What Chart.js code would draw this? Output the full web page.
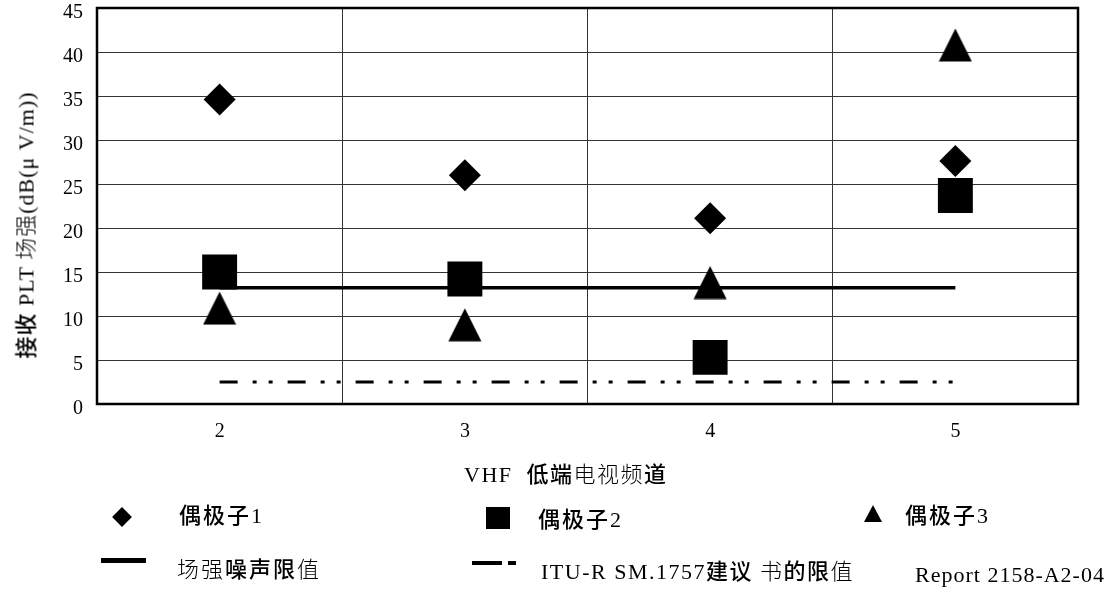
<!DOCTYPE html>
<html><head><meta charset="utf-8">
<script src="https://cdn.jsdelivr.net/npm/chart.js@4.4.1/dist/chart.umd.min.js"></script>
<style>
body{margin:0;background:#fff;}
#wrap{position:relative;width:1112px;height:591px;overflow:hidden;background:#fff;}
canvas{position:absolute;left:0;top:0;}
.t{position:absolute;font-family:'Liberation Serif','Times New Roman',serif;font-size:22px;color:#000;white-space:nowrap;line-height:1;transform:translateY(-50%);}
.b{font-family:'Noto Sans CJK SC',sans-serif;font-weight:500;}
.l{font-family:'Noto Sans CJK SC',sans-serif;font-weight:300;}
.m{position:absolute;background:#000;}
</style></head><body>
<div id="wrap">
<canvas id="c" width="1112" height="591"></canvas>
<div class="t" id="ytitle" style="left:25px;top:225px;font-size:22px;letter-spacing:1px;transform:translate(-50%,-50%) rotate(-90deg);"><span class="b">接收</span> PLT <span class="l">场强</span>(dB(μ V/m))</div>
<div class="t" id="xtitle" style="left:464px;top:473px;font-size:22px;letter-spacing:1.5px;">VHF&nbsp; <span class="b">低端</span><span class="l">电视频</span><span class="b">道</span></div>
<div id="legend"></div>
<div class="t" style="left:915px;top:575px;font-size:22px;letter-spacing:1px;">Report 2158-A2-04</div>
</div>
<script>
// ---- data ----
const categories = ['2', '3', '4', '5'];
const dipole1 = [34.6, 26.0, 21.1, 27.6];
const dipole2 = [15.0, 14.2, 5.3, 23.7];
const dipole3 = [10.9, 9.0, 13.8, 40.8];
const noiseLimit = [13.2, 13.2, 13.2, 13.2];
const ituLimit = [2.5, 2.5, 2.5, 2.5];
const yTickValues = [0, 5, 10, 15, 20, 25, 30, 35, 40, 45];
const seriesNames = ['偶极子1', '偶极子2', '偶极子3', '场强噪声限值', 'ITU-R SM.1757建议书的限值'];

// triangle marker centred on its bounding box
const tri = document.createElement('canvas');
tri.width = 34; tri.height = 34;
(function(){const g = tri.getContext('2d'); g.fillStyle = '#000'; g.beginPath(); g.moveTo(17, 0.5); g.lineTo(33.5, 33.5); g.lineTo(0.5, 33.5); g.closePath(); g.fill();})();

const frame = {
  id: 'frame',
  beforeDatasetsDraw(chart) {
    const {ctx, chartArea: a} = chart;
    ctx.save();
    ctx.strokeStyle = '#000';
    ctx.lineWidth = 2.5;
    ctx.strokeRect(a.left, a.top, a.right - a.left, a.bottom - a.top);
    ctx.restore();
  }
};

const serif = "'Liberation Serif', 'Times New Roman', serif";

new Chart(document.getElementById('c'), {
  type: 'line',
  data: {
    labels: categories,
    datasets: [
      {label: seriesNames[0], data: dipole1, showLine: false, pointStyle: 'rectRot', pointRadius: 16, pointHoverRadius: 16, backgroundColor: '#000', borderColor: '#000', pointBorderWidth: 0},
      {label: seriesNames[1], data: dipole2, showLine: false, pointStyle: 'rect', pointRadius: 24.7, pointHoverRadius: 24.7, backgroundColor: '#000', borderColor: '#000', pointBorderWidth: 0},
      {label: seriesNames[2], data: dipole3, showLine: false, pointStyle: tri, pointRadius: 17, backgroundColor: '#000', borderColor: '#000', pointBorderWidth: 0},
      {label: seriesNames[3], data: noiseLimit, showLine: true, pointRadius: 0, borderColor: '#000', borderWidth: 3.5, fill: false},
      {label: seriesNames[4], data: ituLimit, showLine: true, pointRadius: 0, borderColor: '#000', borderWidth: 3, borderDash: [18, 15, 4, 12, 4, 15], fill: false}
    ]
  },
  options: {
    responsive: false,
    animation: false,
    events: [],
    layout: {autoPadding: false, padding: {left: 0, top: 8, right: 34, bottom: 0}},
    plugins: {legend: {display: false}, tooltip: {enabled: false}},
    scales: {
      x: {
        type: 'category',
        offset: true,
        grid: {offset: true, color: '#333', lineWidth: 1, drawTicks: false},
        border: {display: false},
        ticks: {color: '#000', padding: 16, font: {family: serif, size: 20}},
        afterFit(s) { s.height = 187; s.paddingLeft = 0; s.paddingRight = 0; }
      },
      y: {
        min: 0, max: 45,
        afterBuildTicks(s) { s.ticks = yTickValues.map(v => ({value: v})); },
        grid: {color: '#333', lineWidth: 1, drawTicks: false},
        border: {display: false},
        ticks: {color: '#000', padding: 14, labelOffset: 5, font: {family: serif, size: 20}},
        afterFit(s) { s.width = 97; s.paddingTop = 0; s.paddingBottom = 0; }
      }
    }
  },
  plugins: [frame]
});

// ---- legend (HTML) ----
const lg = document.getElementById('legend');
function add(html) { lg.insertAdjacentHTML('beforeend', html); }
add('<div class="m" style="left:115px;top:510px;width:14px;height:14px;transform:rotate(45deg);"></div>');
add('<div class="t" style="left:179px;top:514px;letter-spacing:2px;"><span class="b">偶极子</span>1</div>');
add('<div class="m" style="left:486px;top:507px;width:24px;height:22px;"></div>');
add('<div class="t" style="left:538px;top:518px;letter-spacing:2px;"><span class="b">偶极子</span>2</div>');
add('<div style="position:absolute;left:864px;top:505px;width:0;height:0;border-left:9px solid transparent;border-right:9px solid transparent;border-bottom:17px solid #000;"></div>');
add('<div class="t" style="left:905px;top:514px;letter-spacing:2px;"><span class="b">偶极子</span>3</div>');
add('<div class="m" style="left:101px;top:558px;width:45px;height:5px;"></div>');
add('<div class="t" style="left:177px;top:568px;letter-spacing:2px;"><span class="l">场强</span><span class="b">噪声限</span><span class="l">值</span></div>');
add('<div class="m" style="left:472px;top:561px;width:30px;height:4px;"></div>');
add('<div class="m" style="left:508px;top:561px;width:8px;height:4px;"></div>');
add('<div class="t" style="left:541px;top:570px;letter-spacing:1.5px;">ITU-R SM.1757<span class="b">建议</span> <span class="l">书</span><span class="b">的限</span><span class="l">值</span></div>');
</script>
</body></html>
